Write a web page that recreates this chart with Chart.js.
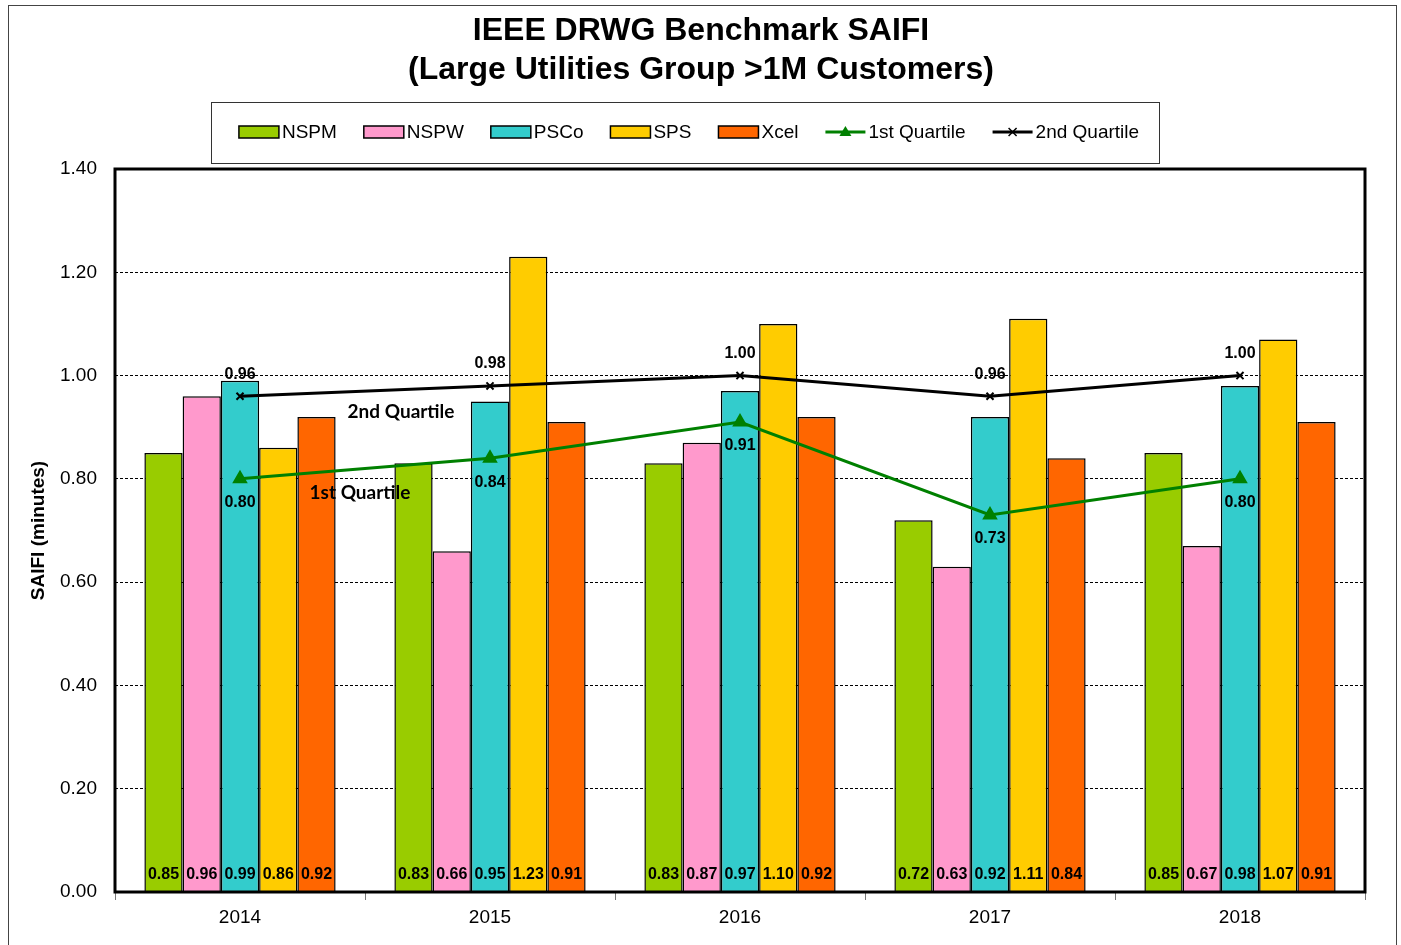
<!DOCTYPE html>
<html>
<head>
<meta charset="utf-8">
<title>IEEE DRWG Benchmark SAIFI</title>
<script src="https://cdn.jsdelivr.net/npm/chart.js@4"></script>
<style>
  body { margin: 0; background: #fff; }
  canvas { display: block; }
</style>
</head>
<body>
<canvas id="myChart" width="1401" height="945"></canvas>
<script>
var years = ["2014", "2015", "2016", "2017", "2018"];
var nspm = [0.85, 0.83, 0.83, 0.72, 0.85];
var nspw = [0.96, 0.66, 0.87, 0.63, 0.67];
var psco = [0.99, 0.95, 0.97, 0.92, 0.98];
var sps = [0.86, 1.23, 1.10, 1.11, 1.07];
var xcel = [0.92, 0.91, 0.92, 0.84, 0.91];
var quartile1 = [0.80, 0.84, 0.91, 0.73, 0.80];
var quartile2 = [0.96, 0.98, 1.00, 0.96, 1.00];
var yMin = 0, yMax = 1.4, yStep = 0.2;

var barNames = ["NSPM", "NSPW", "PSCo", "SPS", "Xcel"];
var barValues = [nspm, nspw, psco, sps, xcel];
var barColors = ["#99CC00", "#FF99CC", "#33CCCC", "#FFCC00", "#FF6600"];

var FONT = "'Liberation Sans', Arial, sans-serif";

var datasets = [];
for (var i = 0; i < barNames.length; i++) {
  datasets.push({
    type: "bar",
    label: barNames[i],
    data: barValues[i],
    backgroundColor: barColors[i],
    borderColor: "#000",
    borderWidth: 1.5,
    order: 1
  });
}
datasets.push({
  type: "line",
  label: "1st Quartile",
  data: quartile1,
  borderColor: "#008000",
  backgroundColor: "#008000",
  borderWidth: 3,
  pointStyle: "triangle",
  pointRadius: 6,
  tension: 0,
  order: 0
});
datasets.push({
  type: "line",
  label: "2nd Quartile",
  data: quartile2,
  borderColor: "#000",
  backgroundColor: "#000",
  borderWidth: 3,
  pointStyle: "crossRot",
  pointRadius: 5,
  pointBorderWidth: 2,
  tension: 0,
  order: 0
});

function drawMarker(ctx, style, x, y, color) {
  ctx.save();
  ctx.fillStyle = color;
  ctx.strokeStyle = color;
  if (style === "triangle") {
    ctx.beginPath();
    ctx.moveTo(x, y - 6);
    ctx.lineTo(x + 6, y + 4);
    ctx.lineTo(x - 6, y + 4);
    ctx.closePath();
    ctx.fill();
  } else {
    ctx.lineWidth = 1.5;
    ctx.beginPath();
    ctx.moveTo(x - 4, y - 4); ctx.lineTo(x + 4, y + 4);
    ctx.moveTo(x + 4, y - 4); ctx.lineTo(x - 4, y + 4);
    ctx.stroke();
  }
  ctx.restore();
}

var decor = {
  id: "decor",
  beforeDraw: function (chart) {
    var ctx = chart.ctx;
    ctx.save();
    ctx.fillStyle = "#fff";
    ctx.fillRect(0, 0, chart.width, chart.height);
    ctx.strokeStyle = "#444";
    ctx.lineWidth = 1;
    ctx.strokeRect(8.5, 5.5, 1388, 945);
    ctx.restore();
  },
  afterDatasetsDraw: function (chart) {
    var ctx = chart.ctx;
    var area = chart.chartArea;
    ctx.save();
    // value labels at the foot of each bar
    ctx.font = "bold 16px " + FONT;
    ctx.fillStyle = "#000";
    ctx.textAlign = "center";
    ctx.textBaseline = "middle";
    for (var d = 0; d < barNames.length; d++) {
      var meta = chart.getDatasetMeta(d);
      meta.data.forEach(function (el, j) {
        ctx.fillText(barValues[d][j].toFixed(2), el.x, area.bottom - 17);
      });
    }
    // quartile labels
    chart.getDatasetMeta(5).data.forEach(function (el, j) {
      ctx.fillText(quartile1[j].toFixed(2), el.x, el.y + 24);
    });
    chart.getDatasetMeta(6).data.forEach(function (el, j) {
      ctx.fillText(quartile2[j].toFixed(2), el.x, el.y - 22);
    });
    // plot frame
    ctx.strokeStyle = "#000";
    ctx.lineWidth = 3;
    ctx.strokeRect(area.left, area.top, area.right - area.left, area.bottom - area.top);
    ctx.restore();
  },
  afterDraw: function (chart) {
    var ctx = chart.ctx;
    var xs = chart.scales.x, ys = chart.scales.y;
    ctx.save();
    // title
    ctx.fillStyle = "#000";
    ctx.textAlign = "center";
    ctx.textBaseline = "middle";
    ctx.font = "bold 32px " + FONT;
    ctx.fillText("IEEE DRWG Benchmark SAIFI", 701, 31);
    ctx.fillText("(Large Utilities Group >1M Customers)", 701, 70);

    // legend
    ctx.strokeStyle = "#333";
    ctx.lineWidth = 1;
    ctx.strokeRect(211.5, 102.5, 948, 61);
    ctx.font = "19px " + FONT;
    var items = [];
    var total = 0;
    for (var i = 0; i < datasets.length; i++) {
      var w = ctx.measureText(datasets[i].label).width;
      items.push(w);
      total += 40 + 3 + w;
    }
    var gap = 27;
    total += gap * (datasets.length - 1);
    var x = 689 - total / 2;
    var cy = 132;
    ctx.textAlign = "left";
    for (var k = 0; k < datasets.length; k++) {
      var ds = datasets[k];
      if (ds.type === "bar") {
        ctx.fillStyle = ds.backgroundColor;
        ctx.fillRect(x, cy - 6, 40, 12);
        ctx.strokeStyle = "#000";
        ctx.lineWidth = 1.5;
        ctx.strokeRect(x, cy - 6, 40, 12);
      } else {
        ctx.strokeStyle = ds.borderColor;
        ctx.lineWidth = 3;
        ctx.beginPath();
        ctx.moveTo(x, cy);
        ctx.lineTo(x + 40, cy);
        ctx.stroke();
        drawMarker(ctx, ds.pointStyle, x + 20, cy, ds.borderColor);
      }
      ctx.fillStyle = "#000";
      ctx.fillText(ds.label, x + 43, cy + 1);
      x += 43 + items[k] + gap;
    }

    // in-chart series notes
    var step = xs.getPixelForValue(1) - xs.getPixelForValue(0);
    ctx.textAlign = "center";
    ctx.fillStyle = "#000";
    ctx.font = "bold 19px Lato, 'Open Sans', sans-serif";
    ctx.fillText("2nd Quartile", xs.getPixelForValue(0) + 0.644 * step, ys.getPixelForValue(0.929));
    ctx.fillText("1st Quartile", xs.getPixelForValue(0) + 0.48 * step, ys.getPixelForValue(0.773));
    ctx.restore();
  }
};

new Chart("myChart", {
  type: "bar",
  data: {
    labels: years,
    datasets: datasets
  },
  plugins: [decor],
  options: {
    responsive: false,
    animation: false,
    devicePixelRatio: 1,
    layout: { padding: { left: 15, right: 36, top: 169, bottom: 8 } },
    datasets: {
      bar: { categoryPercentage: 0.765, barPercentage: 1 }
    },
    plugins: {
      legend: { display: false },
      title: { display: false },
      tooltip: { enabled: false }
    },
    scales: {
      x: {
        afterFit: function (s) { s.height = 45; },
        grid: {
          offset: true,
          drawOnChartArea: false,
          drawTicks: true,
          tickLength: 8,
          tickColor: "#777",
          tickWidth: 1
        },
        border: { display: false },
        ticks: { color: "#000", font: { family: FONT, size: 19 }, padding: 6 }
      },
      y: {
        min: yMin,
        max: yMax,
        afterFit: function (s) { s.width = 100; },
        ticks: {
          stepSize: yStep,
          color: "#000",
          padding: 18,
          font: { family: FONT, size: 19 },
          callback: function (v) { return v.toFixed(2); }
        },
        grid: { color: "#000", lineWidth: 1, drawTicks: false },
        border: { display: false, dash: [3, 2] },
        title: {
          display: true,
          text: "SAIFI (minutes)",
          color: "#000",
          font: { family: FONT, size: 19, weight: "bold" },
          padding: { top: 12, bottom: 0 }
        }
      }
    }
  }
});
</script>
</body>
</html>
